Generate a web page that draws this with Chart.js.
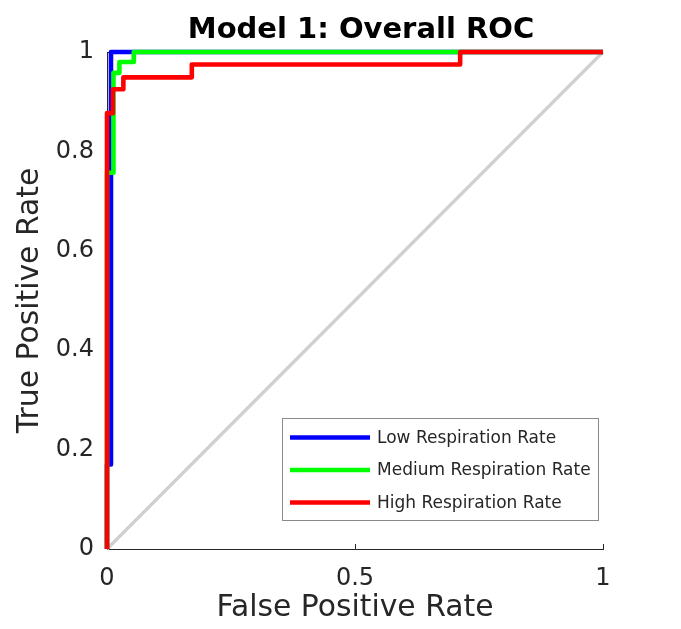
<!DOCTYPE html>
<html>
<head>
<meta charset="utf-8">
<script src="https://cdn.jsdelivr.net/npm/chart.js@4"></script>
<style>
  html, body { margin: 0; padding: 0; background: #fff; }
  #wrap { width: 681px; height: 629px; }
</style>
</head>
<body>
<div id="wrap"><canvas id="c" width="681" height="629"></canvas></div>
<script>
// ---- data ----
const seriesLabels = ['Low Respiration Rate', 'Medium Respiration Rate', 'High Respiration Rate'];
const seriesColors = ['#0000ff', '#00ff00', '#ff0000'];

const lowFPR = [0, 0, 0.008, 0.008, 1];
const lowTPR = [0, 0.17, 0.17, 1, 1];

const medFPR = [0, 0, 0.013, 0.013, 0.025, 0.025, 0.054, 0.054, 1];
const medTPR = [0, 0.757, 0.757, 0.958, 0.958, 0.98, 0.98, 1, 1];

const highFPR = [0, 0, 0.012, 0.012, 0.033, 0.033, 0.171, 0.171, 0.712, 0.712, 1];
const highTPR = [0, 0.877, 0.877, 0.925, 0.925, 0.949, 0.949, 0.975, 0.975, 1, 1];

const diagFPR = [0, 1];
const diagTPR = [0, 1];

const xTicks = [0, 0.5, 1];
const yTicks = [0, 0.2, 0.4, 0.6, 0.8, 1];

const titleText = 'Model 1: Overall ROC';
const xTitle = 'False Positive Rate';
const yTitle = 'True Positive Rate';

// ---- build ----
function pts(xs, ys) { return xs.map((x, i) => ({ x: x, y: ys[i] })); }
const FONT = "'DejaVu Sans', Verdana, sans-serif";
const AXC = '#262626';
const LEGEND_FONT = 17;

const curves = [pts(lowFPR, lowTPR), pts(medFPR, medTPR), pts(highFPR, highTPR)];
const datasets = curves.map((d, i) => ({
  label: seriesLabels[i],
  data: d,
  showLine: true,
  borderColor: seriesColors[i],
  backgroundColor: seriesColors[i],
  borderWidth: 4.6,
  pointRadius: 0,
  borderJoinStyle: 'round',
  borderCapStyle: 'butt',
  tension: 0,
  fill: false,
  clip: false,
  order: 2 - i
}));
datasets.push({
  label: '__diag',
  data: pts(diagFPR, diagTPR),
  showLine: true,
  borderColor: '#d0d0d0',
  borderWidth: 3.2,
  pointRadius: 0,
  fill: false,
  clip: false,
  order: 10
});

const inwardTicks = {
  id: 'inwardTicks',
  beforeDatasetsDraw(chart) {
    const ctx = chart.ctx, xs = chart.scales.x, ys = chart.scales.y;
    ctx.save();
    ctx.strokeStyle = AXC; ctx.lineWidth = 1;
    xTicks.forEach(v => {
      const px = Math.round(xs.getPixelForValue(v)) + 0.5;
      ctx.beginPath(); ctx.moveTo(px, ys.bottom); ctx.lineTo(px, ys.bottom - 5); ctx.stroke();
    });
    yTicks.forEach(v => {
      const py = Math.round(ys.getPixelForValue(v)) + 0.5;
      ctx.beginPath(); ctx.moveTo(xs.left, py); ctx.lineTo(xs.left + 5, py); ctx.stroke();
    });
    ctx.restore();
  }
};

const plotTitle = {
  id: 'plotTitle',
  afterDraw(chart) {
    const ctx = chart.ctx, a = chart.chartArea;
    ctx.save();
    ctx.font = 'bold 29px ' + FONT;
    ctx.fillStyle = '#000';
    ctx.textAlign = 'center';
    ctx.textBaseline = 'middle';
    ctx.fillText(titleText, (a.left + a.right) / 2 + 6, 30);
    ctx.restore();
  }
};

const insideLegend = {
  id: 'insideLegend',
  afterDatasetsDraw(chart) {
    const ctx = chart.ctx, a = chart.chartArea;
    ctx.save();
    ctx.font = LEGEND_FONT + 'px ' + FONT;
    const w = 316, h = 102;
    const right = a.right - 5, bottom = a.bottom - 29;
    const left = right - w, top = bottom - h;
    ctx.fillStyle = '#ffffff';
    ctx.fillRect(left, top, w, h);
    ctx.strokeStyle = '#8a8a8a'; ctx.lineWidth = 1;
    ctx.strokeRect(Math.round(left) + 0.5, Math.round(top) + 0.5, w, h);
    ctx.textBaseline = 'middle';
    ctx.textAlign = 'left';
    seriesLabels.forEach((lab, i) => {
      const y = top + 19.5 + i * 32.5;
      ctx.strokeStyle = seriesColors[i]; ctx.lineWidth = 4.6;
      ctx.beginPath(); ctx.moveTo(left + 8, y); ctx.lineTo(left + 88, y); ctx.stroke();
      ctx.fillStyle = AXC;
      ctx.fillText(lab, left + 95, y + 1);
    });
    ctx.restore();
  }
};

new Chart(document.getElementById('c'), {
  type: 'scatter',
  data: { datasets: datasets },
  plugins: [inwardTicks, insideLegend, plotTitle],
  options: {
    responsive: false,
    animation: false,
    devicePixelRatio: 1,
    layout: { padding: { left: 0, right: 78, top: 52, bottom: 0 } },
    plugins: {
      legend: { display: false },
      tooltip: { enabled: false },
      title: { display: false }
    },
    scales: {
      x: {
        type: 'linear', min: 0, max: 1,
        afterBuildTicks(s) { s.ticks = xTicks.map(v => ({ value: v })); },
        afterFit(s) { s.height = 80; },
        ticks: { color: AXC, padding: 15, font: { family: FONT, size: 24 },
                 callback: v => String(v), maxRotation: 0 },
        grid: { drawOnChartArea: false, drawTicks: false },
        border: { display: true, color: AXC, width: 1 },
        title: { display: true, text: xTitle, color: AXC,
                 font: { family: FONT, size: 29.8, lineHeight: 1.2 }, padding: { top: 3.2, bottom: 3.2 } }
      },
      y: {
        type: 'linear', min: 0, max: 1,
        afterBuildTicks(s) { s.ticks = yTicks.map(v => ({ value: v })); },
        afterFit(s) { s.width = 107; },
        ticks: { color: AXC, padding: 13, font: { family: FONT, size: 24 },
                 callback: v => String(v) },
        grid: { drawOnChartArea: false, drawTicks: false },
        border: { display: true, color: AXC, width: 1 },
        title: { display: true, text: yTitle, color: AXC,
                 font: { family: FONT, size: 29.8, lineHeight: 1.2 }, padding: { top: 12.2, bottom: 12.2 } }
      }
    }
  }
});
</script>
</body>
</html>
